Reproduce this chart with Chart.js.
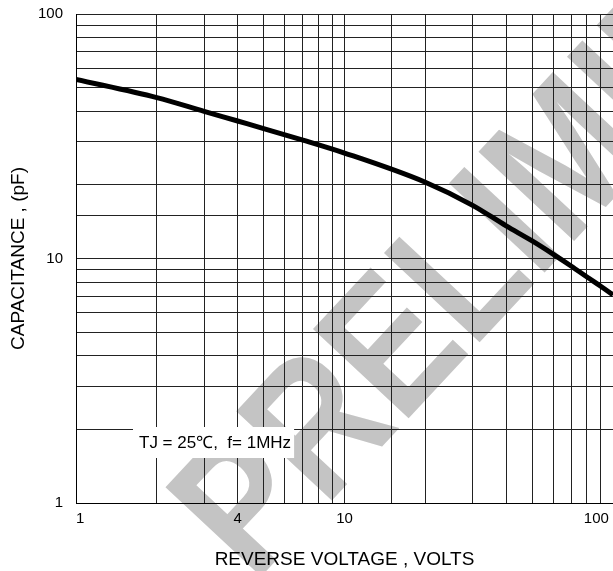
<!DOCTYPE html>
<html>
<head>
<meta charset="utf-8">
<script src="https://cdn.jsdelivr.net/npm/chart.js@4/dist/chart.umd.min.js"></script>
<style>
  html, body { margin: 0; padding: 0; background: #fff; }
  #wrap { width: 613px; height: 571px; position: relative; }
</style>
</head>
<body>
<div id="wrap"><canvas id="cap"></canvas></div>
<script>
// Capacitance vs reverse voltage, log-log
const voltage = [1, 2, 3, 4, 5, 7, 10, 20, 30, 40, 50, 60, 70, 80, 90, 100];
const capacitance = [54, 45.5, 40, 36.5, 34, 30.5, 27, 20.5, 16.5, 13.6, 11.8, 10.4, 9.3, 8.4, 7.7, 7.1];
const xTickLabels = [1, 4, 10, 100];
const yTickLabels = [1, 10, 100];
const noteText = "TJ = 25\u2103,  f= 1MHz";
const watermarkText = "PRELIMINARY";

const points = voltage.map((v, i) => ({ x: v, y: capacitance[i] }));
const FONT = "'Liberation Sans', Arial, sans-serif";

// watermark behind the grid
const watermark = {
  id: "watermark",
  beforeDraw(chart) {
    const ctx = chart.ctx;
    ctx.save();
    ctx.fillStyle = "#fff";
    ctx.fillRect(0, 0, chart.width, chart.height);
    ctx.translate(254, 584);
    ctx.rotate(-47 * Math.PI / 180);
    ctx.scale(0.82, 1);
    ctx.fillStyle = "#c4c4c4";
    ctx.font = "bold 190px " + FONT;
    ctx.textBaseline = "alphabetic";
    ctx.fillText(watermarkText, 0, 0);
    ctx.restore();
  },
};

// condition label with white box
const note = {
  id: "note",
  afterDraw(chart) {
    const ctx = chart.ctx;
    const a = chart.chartArea;
    ctx.save();
    ctx.font = "17px " + FONT;
    const w = ctx.measureText(noteText).width;
    ctx.fillStyle = "#fff";
    ctx.fillRect(a.left + 57, 427, w + 9, 31);
    ctx.fillStyle = "#000";
    ctx.textBaseline = "middle";
    ctx.fillText(noteText, a.left + 63, 443);
    ctx.restore();
  },
};

new Chart(document.getElementById("cap"), {
  type: "line",
  data: {
    datasets: [
      {
        data: points,
        borderColor: "#000",
        borderWidth: 5,
        pointRadius: 0,
        fill: false,
        tension: 0.4,
        cubicInterpolationMode: "monotone",
      },
    ],
  },
  options: {
    responsive: true,
    maintainAspectRatio: false,
    animation: false,
    layout: { padding: { top: 14, right: 0, bottom: 0, left: 0 } },
    plugins: { legend: { display: false }, tooltip: { enabled: false } },
    scales: {
      x: {
        type: "logarithmic",
        min: 1,
        max: 100,
        grid: { color: "#222", lineWidth: 1, drawTicks: false },
        border: { color: "#000", width: 1 },
        afterFit: (s) => {
          s.height = 68;
          s.paddingLeft = 0;
          s.paddingRight = 0;
        },
        ticks: {
          autoSkip: false,
          maxRotation: 0,
          align: "inner",
          padding: 7,
          color: "#000",
          font: { family: FONT, size: 15 },
          // trailing space keeps the right-aligned "100" off the canvas edge
          callback: (v) => (xTickLabels.includes(v) ? (v === 100 ? "100 " : String(v)) : ""),
        },
        title: {
          display: true,
          text: "REVERSE VOLTAGE , VOLTS",
          color: "#000",
          padding: { top: 20, bottom: 0 },
          font: { family: FONT, size: 19 },
        },
      },
      y: {
        type: "logarithmic",
        min: 1,
        max: 100,
        grid: { color: "#222", lineWidth: 1, drawTicks: false },
        border: { color: "#000", width: 1 },
        afterFit: (s) => {
          s.width = 76;
          s.paddingTop = 0;
          s.paddingBottom = 0;
        },
        ticks: {
          autoSkip: false,
          padding: 13,
          color: "#000",
          font: { family: FONT, size: 15 },
          callback: (v) => (yTickLabels.includes(v) ? String(v) : ""),
        },
        title: {
          display: true,
          text: "CAPACITANCE , (pF)",
          color: "#000",
          padding: { top: 7, bottom: 5 },
          font: { family: FONT, size: 19 },
        },
      },
    },
  },
  plugins: [watermark, note],
});
</script>
</body>
</html>
